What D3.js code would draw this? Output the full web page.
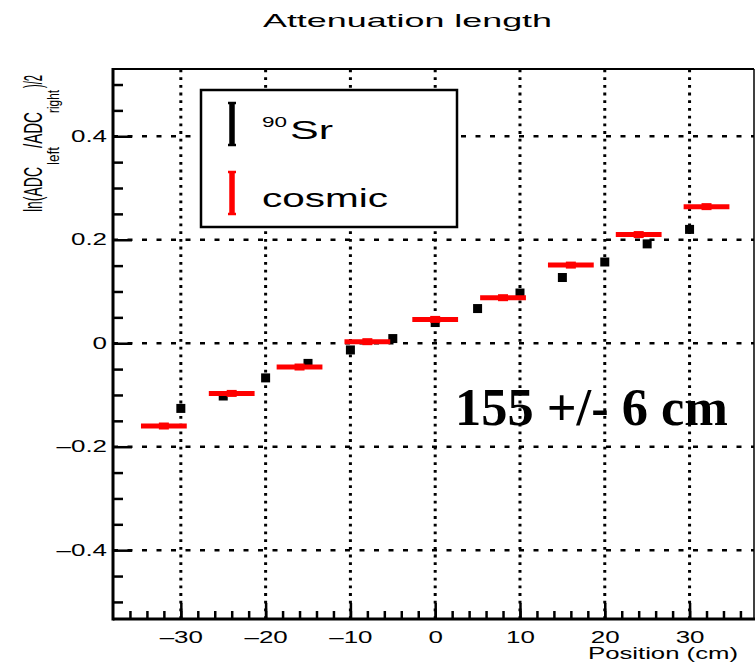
<!DOCTYPE html>
<html>
<head>
<meta charset="utf-8">
<script src="https://cdn.jsdelivr.net/npm/d3@7"></script>
<style>
  body { margin: 0; background: #fff; }
  svg { display: block; }
  text { font-family: "Liberation Sans", Arial, sans-serif; fill: #000; }
</style>
</head>
<body>
<script>
// Data
var srPositions = [-30, -25, -20, -15, -10, -5, 0, 5, 10, 15, 20, 25, 30];
var srValues = [-0.126, -0.102, -0.067, -0.039, -0.013, 0.009, 0.040, 0.067, 0.097, 0.127, 0.157, 0.192, 0.220];

var cosmicPositions = [-32, -24, -16, -8, 0, 8, 16, 24, 32];
var cosmicValues = [-0.160, -0.097, -0.046, 0.003, 0.046, 0.088, 0.151, 0.210, 0.264];
var cosmicHalfWidth = [2.7, 2.7, 2.7, 2.7, 2.7, 2.7, 2.7, 2.7, 2.7];

var xMajorTicks = [-30, -20, -10, 0, 10, 20, 30];
var xMinorTicks = d3.range(-36, 37, 2);
var yMajorTicks = [-0.4, -0.2, 0, 0.2, 0.4];
var yMinorTicks = [-0.5, -0.45, -0.35, -0.3, -0.25, -0.15, -0.1, -0.05, 0.05, 0.1, 0.15, 0.25, 0.3, 0.35, 0.45, 0.5];

// Canvas
var svgWidth = 755;
var svgHeight = 666;
var frame = { left: 113, right: 754, top: 69, bottom: 619 };

var svg = d3.select("body")
  .append("svg")
  .attr("width", svgWidth)
  .attr("height", svgHeight);

var x = d3.scaleLinear()
  .domain([-38, 37.6])
  .range([frame.left, frame.right]);

var y = d3.scaleLinear()
  .domain([-0.533, 0.53])
  .range([frame.bottom, frame.top]);

// stretch text horizontally like the reference canvas
function stretch(sel, k) {
  sel.each(function() {
    var w = this.getComputedTextLength();
    d3.select(this)
      .attr("textLength", w * k)
      .attr("lengthAdjust", "spacingAndGlyphs");
  });
}

// Grid
svg.append("g").selectAll("line")
  .data(xMajorTicks)
  .enter().append("line")
  .attr("x1", d => x(d)).attr("x2", d => x(d))
  .attr("y1", frame.bottom).attr("y2", frame.top)
  .attr("stroke", "#000")
  .attr("stroke-width", 3)
  .attr("stroke-dasharray", "2.8,4.9");

svg.append("g").selectAll("line")
  .data(yMajorTicks)
  .enter().append("line")
  .attr("x1", frame.left).attr("x2", frame.right)
  .attr("y1", d => y(d)).attr("y2", d => y(d))
  .attr("stroke", "#000")
  .attr("stroke-width", 2.6)
  .attr("stroke-dasharray", "5,9.5");

// 90Sr points
svg.append("g").selectAll("rect")
  .data(srPositions)
  .enter().append("rect")
  .attr("x", (d, i) => x(d) - 4.5)
  .attr("y", (d, i) => y(srValues[i]) - 4.5)
  .attr("width", 9)
  .attr("height", 9)
  .attr("fill", "#000");

// cosmic points
var cosmic = svg.append("g");
cosmic.selectAll("line")
  .data(cosmicPositions)
  .enter().append("line")
  .attr("x1", (d, i) => x(d - cosmicHalfWidth[i]))
  .attr("x2", (d, i) => x(d + cosmicHalfWidth[i]))
  .attr("y1", (d, i) => y(cosmicValues[i]))
  .attr("y2", (d, i) => y(cosmicValues[i]))
  .attr("stroke", "#ff0000")
  .attr("stroke-width", 5);
cosmic.selectAll("rect")
  .data(cosmicPositions)
  .enter().append("rect")
  .attr("x", d => x(d) - 5)
  .attr("y", (d, i) => y(cosmicValues[i]) - 3.5)
  .attr("width", 10)
  .attr("height", 7)
  .attr("fill", "#ff0000");

// Axes
svg.append("g")
  .attr("transform", `translate(${frame.left},0)`)
  .call(d3.axisLeft(y).tickValues(yMajorTicks).tickSize(-19).tickPadding(6)
    .tickFormat(d => d === 0 ? "0" : (d < 0 ? "\u2013" : "") + Math.abs(d).toFixed(1)));
svg.append("g")
  .attr("transform", `translate(${frame.left},0)`)
  .call(d3.axisLeft(y).tickValues(yMinorTicks).tickSize(-10).tickFormat(""));

svg.append("g")
  .attr("transform", `translate(0,${frame.bottom})`)
  .call(d3.axisBottom(x).tickValues(xMajorTicks).tickSize(-16).tickPadding(13)
    .tickFormat(d => (d < 0 ? "\u2013" : "") + Math.abs(d)));
svg.append("g")
  .attr("transform", `translate(0,${frame.bottom})`)
  .call(d3.axisBottom(x).tickValues(xMinorTicks).tickSize(-8).tickFormat(""));

svg.selectAll(".domain").remove();
svg.selectAll(".tick line").attr("stroke", "#000").attr("stroke-width", 2.5);
svg.selectAll(".tick text")
  .attr("font-family", "Liberation Sans, Arial, sans-serif")
  .attr("font-size", 16)
  .attr("fill", "#000")
  .call(stretch, 1.62);

// Frame
svg.append("line").attr("x1", frame.left).attr("x2", frame.right)
  .attr("y1", frame.top).attr("y2", frame.top)
  .attr("stroke", "#000").attr("stroke-width", 2);
svg.append("line").attr("x1", frame.right).attr("x2", frame.right)
  .attr("y1", frame.top).attr("y2", frame.bottom)
  .attr("stroke", "#000").attr("stroke-width", 1.5);
svg.append("line").attr("x1", frame.left).attr("x2", frame.right + 1)
  .attr("y1", frame.bottom).attr("y2", frame.bottom)
  .attr("stroke", "#000").attr("stroke-width", 3);
svg.append("line").attr("x1", frame.left).attr("x2", frame.left)
  .attr("y1", frame.top - 1).attr("y2", frame.bottom + 1.5)
  .attr("stroke", "#000").attr("stroke-width", 3);

// Legend
var legend = svg.append("g");
legend.append("rect")
  .attr("x", 201).attr("y", 90)
  .attr("width", 256).attr("height", 137)
  .attr("fill", "#fff")
  .attr("stroke", "#000")
  .attr("stroke-width", 2.5);

function legendBar(cx, y1, y2, color) {
  legend.append("line")
    .attr("x1", cx).attr("x2", cx).attr("y1", y1).attr("y2", y2)
    .attr("stroke", color).attr("stroke-width", 5.5);
  [y1 + 1, y2 - 1].forEach(function(yy) {
    legend.append("line")
      .attr("x1", cx - 4).attr("x2", cx + 4).attr("y1", yy).attr("y2", yy)
      .attr("stroke", color).attr("stroke-width", 2.5);
  });
}
legendBar(232, 102, 146, "#000");
legendBar(232, 171, 215, "#ff0000");

legend.append("text").attr("x", 262).attr("y", 127)
  .attr("font-size", 14).attr("textLength", 25).attr("lengthAdjust", "spacingAndGlyphs")
  .text("90");
legend.append("text").attr("x", 290).attr("y", 139)
  .attr("font-size", 25).attr("textLength", 43).attr("lengthAdjust", "spacingAndGlyphs")
  .text("Sr");
legend.append("text").attr("x", 262).attr("y", 207)
  .attr("font-size", 26).attr("textLength", 126).attr("lengthAdjust", "spacingAndGlyphs")
  .text("cosmic");

// Title
svg.append("text")
  .attr("x", 263).attr("y", 27)
  .attr("font-size", 18.5)
  .attr("textLength", 289).attr("lengthAdjust", "spacingAndGlyphs")
  .text("Attenuation length");

// X axis title
svg.append("text")
  .attr("x", 738).attr("y", 659)
  .attr("text-anchor", "end")
  .attr("font-size", 16)
  .attr("textLength", 150).attr("lengthAdjust", "spacingAndGlyphs")
  .text("Position (cm)");

// Y axis title, pieces laid along the rotated baseline
var yTitle = svg.append("g")
  .attr("transform", "translate(42,212) rotate(-90) scale(1,1.75)");
var yPieces = [
  { t: "ln(ADC", x: 0, w: 45, size: 14.5, dy: 0 },
  { t: "left", x: 47, w: 18, size: 9.5, dy: 9.5 },
  { t: "/ADC", x: 64, w: 36, size: 14.5, dy: 0 },
  { t: "right", x: 99, w: 23, size: 9.5, dy: 9.5 },
  { t: ")/2", x: 124, w: 13, size: 14.5, dy: 0 }
];
yTitle.selectAll("text")
  .data(yPieces)
  .enter().append("text")
  .attr("x", d => d.x)
  .attr("y", d => d.dy)
  .attr("font-size", d => d.size)
  .attr("textLength", d => d.w)
  .attr("lengthAdjust", "spacingAndGlyphs")
  .text(d => d.t);

// Fit result
svg.append("text")
  .attr("x", 455).attr("y", 425)
  .attr("font-weight", "bold")
  .attr("font-size", 52)
  .attr("textLength", 273).attr("lengthAdjust", "spacingAndGlyphs")
  .style("font-family", "'Liberation Serif', 'Times New Roman', serif")
  .text("155 +/- 6 cm");
</script>
</body>
</html>
